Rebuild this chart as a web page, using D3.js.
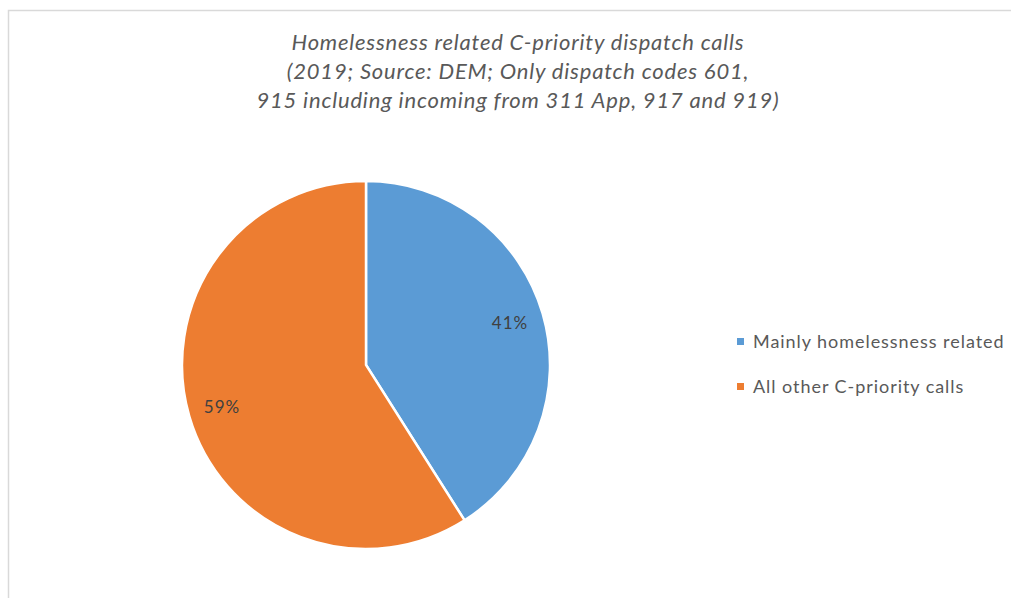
<!DOCTYPE html>
<html><head><meta charset="utf-8">
<script src="https://cdn.jsdelivr.net/npm/d3@7"></script>
<style>body{margin:0;background:#fff}</style>
</head><body>
<svg id="chart" width="1011" height="598"></svg>
<script>
const categories = ["Mainly homelessness related", "All other C-priority calls"];
const values = [41, 59];
const labels = ["41%", "59%"];
const titleLines = [
  "Homelessness related C-priority dispatch calls",
  "(2019; Source: DEM; Only dispatch codes 601,",
  "915 including incoming from 311 App, 917 and 919)"
];
const colors = ["#5B9BD5", "#ED7D31"];

const svg = d3.select("#chart");
const font = "Lato, 'Open Sans', sans-serif";

// frame
svg.append("rect").attr("x", 8.5).attr("y", 10.5).attr("width", 1100).attr("height", 700)
  .attr("fill", "#fff").attr("stroke", "#d9d9d9").attr("stroke-width", 1.5);

// title
svg.append("g").selectAll("text").data(titleLines).join("text")
  .attr("x", 518).attr("y", (d, i) => 50 + i * 29)
  .attr("text-anchor", "middle")
  .attr("font-family", font).attr("font-style", "italic").attr("font-size", 22)
  .attr("letter-spacing", 0.8)
  .attr("fill", "#595959").text(d => d);

const cx = 366, cy = 365, r = 184;
const pie = d3.pie().sort(null).value(d => d);
const arcs = pie(values);
const arc = d3.arc().innerRadius(0).outerRadius(r);
const labelArc = d3.arc().innerRadius(150).outerRadius(150);

const g = svg.append("g").attr("transform", `translate(${cx},${cy})`);
g.selectAll("path").data(arcs).join("path")
  .attr("d", arc).attr("fill", (d, i) => colors[i])
  .attr("stroke", "#fff").attr("stroke-width", 2.5);

g.selectAll("text.lbl").data(arcs).join("text").attr("class", "lbl")
  .attr("transform", d => `translate(${labelArc.centroid(d)})`)
  .attr("text-anchor", "middle").attr("dy", "0.35em")
  .attr("font-family", font).attr("font-size", 17).attr("letter-spacing", 1)
  .attr("fill", "#404040").text((d, i) => labels[i]);

// legend
const lg = svg.append("g").selectAll("g").data(categories).join("g")
  .attr("transform", (d, i) => `translate(737, ${342 + i * 45})`);
lg.append("rect").attr("x", 0).attr("y", -4).attr("width", 7).attr("height", 7)
  .attr("fill", (d, i) => colors[i]);
lg.append("text").attr("x", 16).attr("y", 0).attr("dy", "0.35em")
  .attr("font-family", font).attr("font-size", 18).attr("letter-spacing", 0.95)
  .attr("fill", "#595959").text(d => d);
</script>
</body></html>
